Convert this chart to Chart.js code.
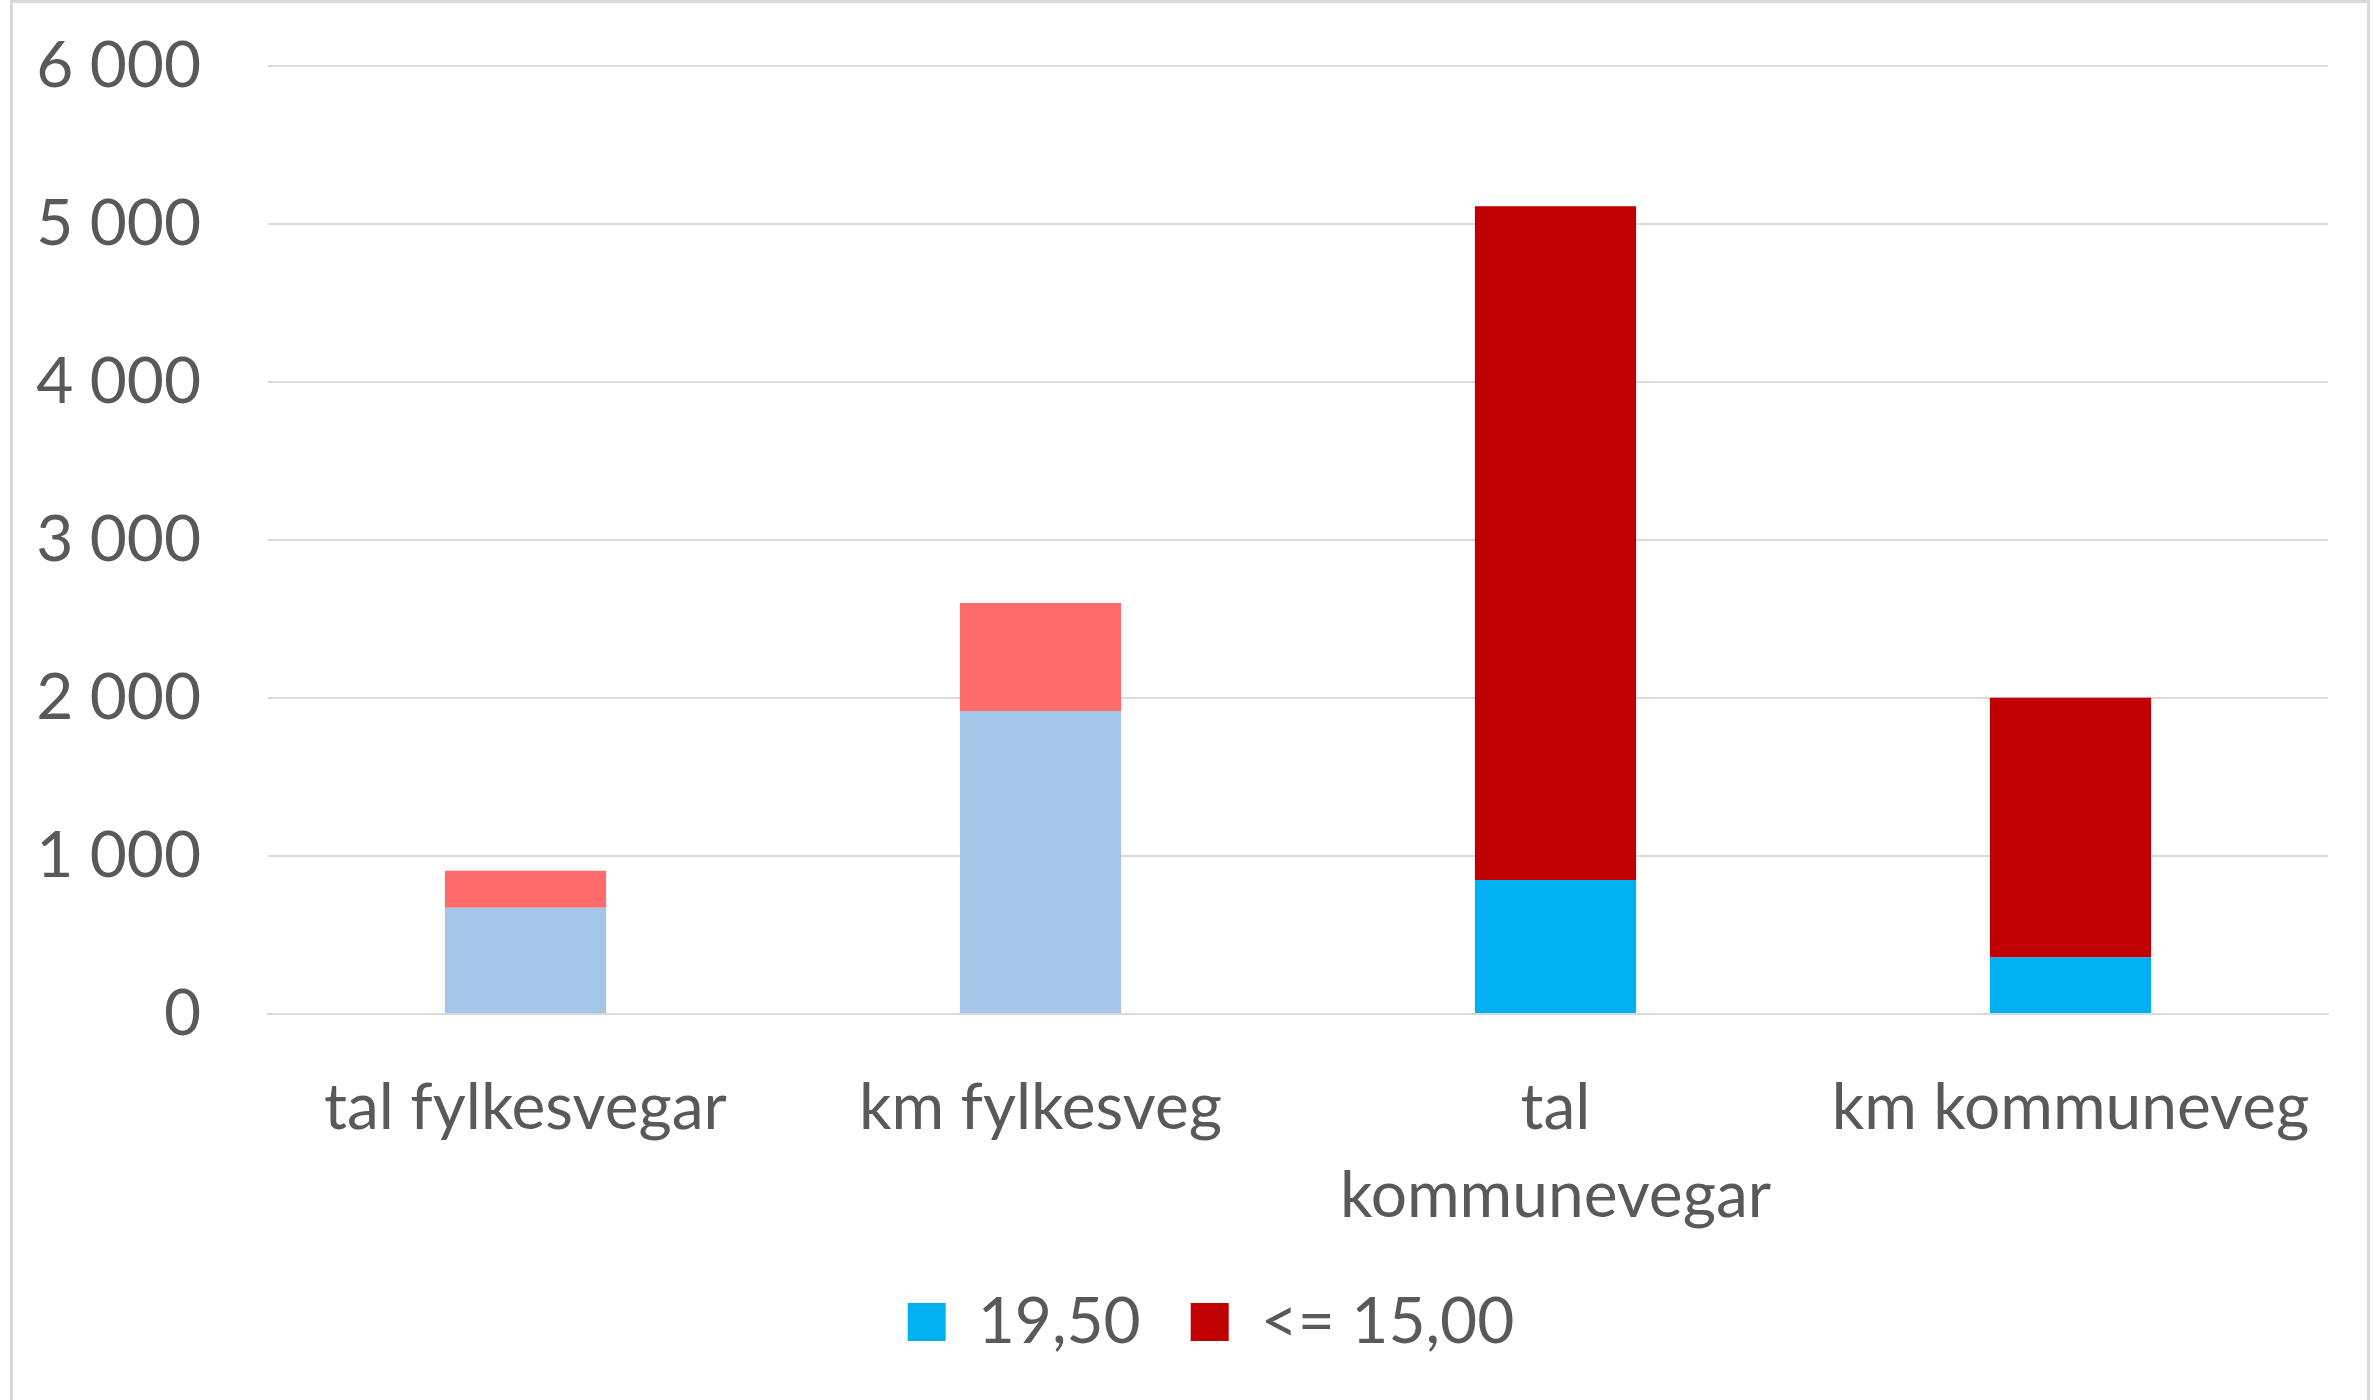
<!DOCTYPE html>
<html>
<head>
<meta charset="utf-8">
<script src="https://cdn.jsdelivr.net/npm/chart.js@4/dist/chart.umd.min.js"></script>
<style>
  html, body { margin: 0; padding: 0; background: #fff; }
  #wrap { position: relative; width: 2374px; height: 1400px; }
  #frame { position: absolute; left: 10px; top: 0; width: 2360px; height: 1400px;
           border: 3px solid #D9D9D9; border-bottom: none; box-sizing: border-box; pointer-events: none; }
</style>
</head>
<body>
<div id="wrap">
  <canvas id="myChart" width="2374" height="1400"></canvas>
  <div id="frame"></div>
</div>
<script>
// categories on the x axis
const labels = ['tal fylkesvegar', 'km fylkesveg', ['tal', 'kommunevegar'], 'km kommuneveg'];
// series names
const seriesNames = ['19,50', '<= 15,00'];
// values
const wide = [672, 1917, 848, 357];
const narrow = [234, 685, 4265, 1644];
const yTicks = [0, 1000, 2000, 3000, 4000, 5000, 6000];

// first two bars are drawn in paler shades
const wideColors = ['#A3C6E8', '#A3C6E8', '#00B0F0', '#00B0F0'];
const narrowColors = ['#FF6B6B', '#FF6B6B', '#C00000', '#C00000'];

const txt = '#595959';
const font = { family: 'Lato', size: 64 };

function fmt(v) {
  return String(v).replace(/\B(?=(\d{3})+(?!\d))/g, ' ');
}

// excel centres the legend a bit right of the canvas middle
const legendShift = {
  id: 'legendShift',
  afterLayout: function(chart) {
    chart.legend.left += 94;
  }
};

new Chart(document.getElementById('myChart'), {
  type: 'bar',
  data: {
    labels: labels,
    datasets: [
      {
        label: seriesNames[0],
        data: wide,
        backgroundColor: wideColors,
        borderWidth: 0,
        categoryPercentage: 1,
        barPercentage: 0.313
      },
      {
        label: seriesNames[1],
        data: narrow,
        backgroundColor: narrowColors,
        borderWidth: 0,
        categoryPercentage: 1,
        barPercentage: 0.313
      }
    ]
  },
  plugins: [legendShift],
  options: {
    responsive: false,
    animation: false,
    layout: { padding: { top: 66, right: 46, left: 0, bottom: 36 } },
    plugins: {
      tooltip: { enabled: false },
      legend: {
        position: 'bottom',
        labels: {
          color: txt,
          font: font,
          boxWidth: 38,
          boxHeight: 38,
          padding: 50,
          // legend swatches use the strong colours
          generateLabels: function(chart) {
            return chart.data.datasets.map(function(ds, i) {
              return {
                text: ds.label,
                fillStyle: ds.backgroundColor[3],
                strokeStyle: ds.backgroundColor[3],
                lineWidth: 0,
                fontColor: txt,
                datasetIndex: i
              };
            });
          }
        }
      }
    },
    scales: {
      x: {
        stacked: true,
        grid: { display: false, drawTicks: false },
        border: { display: true, color: '#D9D9D9', width: 2 },
        ticks: { color: txt, font: Object.assign({ lineHeight: 1.375 }, font), padding: 50, maxRotation: 0, autoSkip: false },
        afterFit: function(axis) { axis.height = 226; }
      },
      y: {
        stacked: true,
        min: 0,
        max: 6000,
        afterBuildTicks: function(axis) {
          axis.ticks = yTicks.map(function(v) { return { value: v }; });
        },
        afterFit: function(axis) { axis.width = 268; },
        grid: { color: '#D9D9D9', lineWidth: 2, drawTicks: true, tickLength: 67, tickColor: 'rgba(0,0,0,0)' },
        border: { display: false },
        ticks: { color: txt, font: font, padding: 0, callback: function(v) { return fmt(v); } }
      }
    }
  }
});
</script>
</body>
</html>
